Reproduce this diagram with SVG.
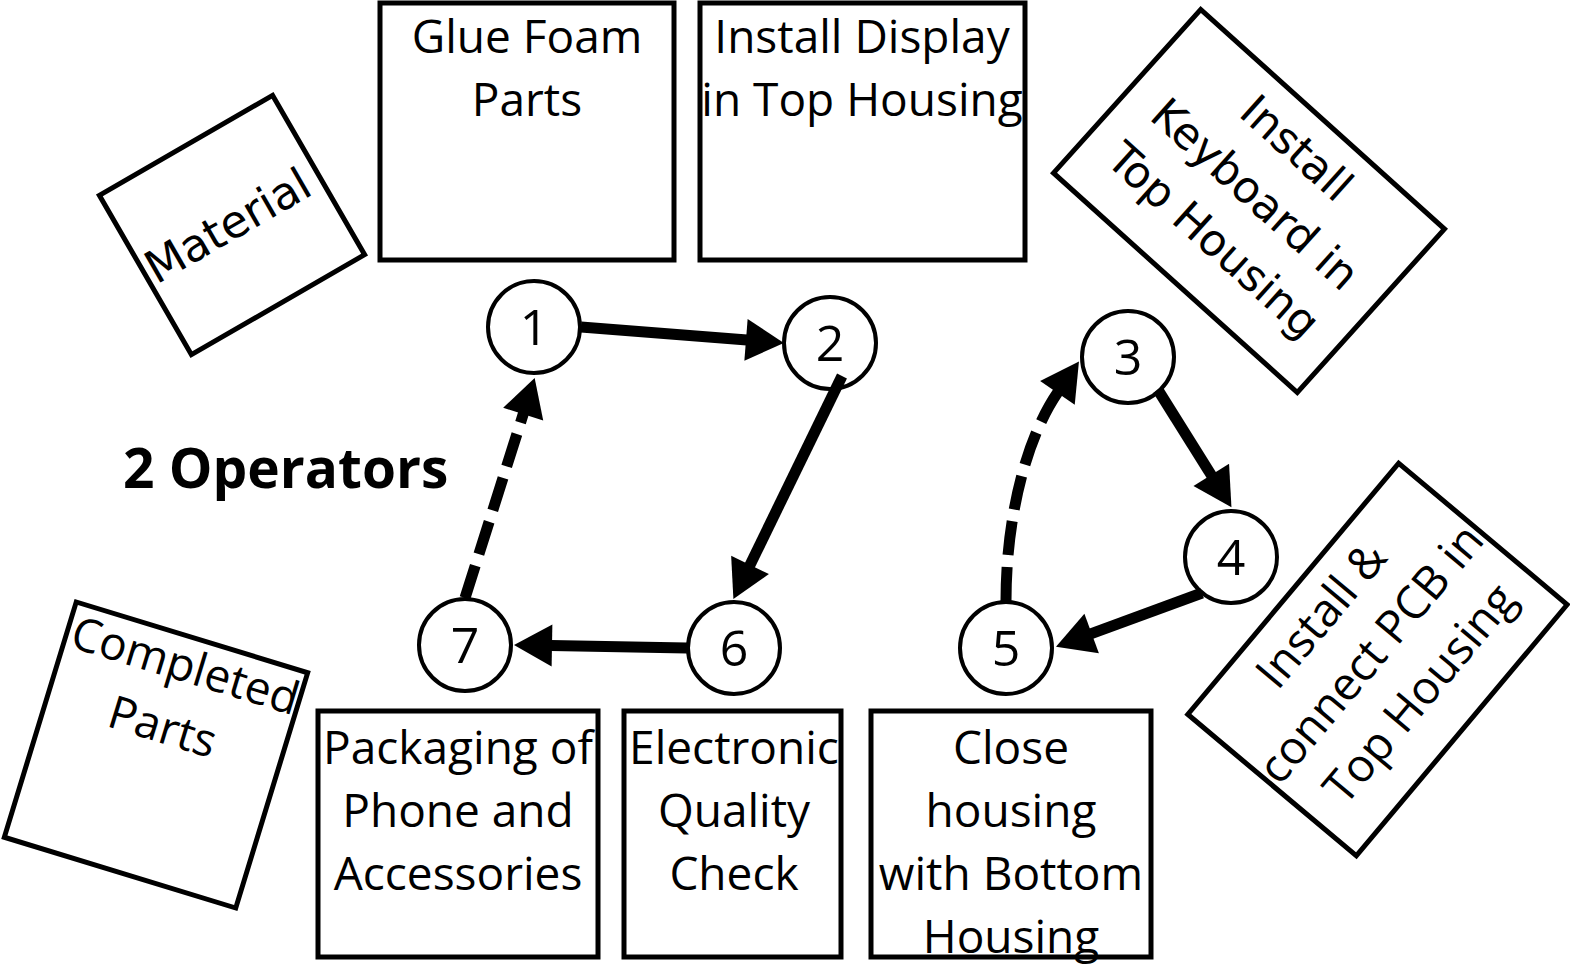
<svg xmlns="http://www.w3.org/2000/svg" width="1570" height="964" viewBox="0 0 1570 964">
<style>
.box{fill:#fff;stroke:#000;stroke-width:5}
.node{fill:#fff;stroke:#000;stroke-width:4}
.t{font-family:"Open Sans","Liberation Sans",sans-serif;font-size:46px;fill:#000;text-anchor:middle}
.d{font-family:"DejaVu Sans","Liberation Sans",sans-serif;fill:#000;text-anchor:middle}
.num{font-family:"Open Sans","Liberation Sans",sans-serif;font-size:50px;fill:#000;text-anchor:middle}
.edge{fill:none;stroke:#000;stroke-width:11;stroke-linecap:butt}
.dash{stroke-dasharray:34 12}
</style>
<defs>
<marker id="ah" markerUnits="userSpaceOnUse" markerWidth="40" markerHeight="42" refX="1" refY="21" orient="auto" overflow="visible">
<path d="M0,0 L38,21 L0,42 Z" fill="#000"/>
</marker>
</defs>
<rect width="1570" height="964" fill="#fff"/>

<g id="box-material" transform="translate(232,225) rotate(-30)">
<rect class="box" x="-100" y="-92" width="200" height="184"/>
<text class="d" font-size="45" x="-4" y="14">Material</text>
</g>

<g id="box-glue">
<rect class="box" x="380" y="3" width="294" height="257"/>
<text class="t" x="527" y="53">Glue Foam</text>
<text class="t" x="527" y="116">Parts</text>
</g>

<g id="box-display">
<rect class="box" x="700" y="3" width="325" height="257"/>
<text class="t" x="862" y="53">Install Display</text>
<text class="t" x="862" y="116">in Top Housing</text>
</g>

<g id="box-keyboard" transform="translate(1249,201) rotate(42)">
<rect class="box" x="-164" y="-110" width="328" height="220"/>
<text class="d" font-size="44" x="0" y="-56">Install</text>
<text class="d" font-size="44" x="0" y="6">Keyboard in</text>
<text class="d" font-size="44" x="0" y="68">Top Housing</text>
</g>

<g id="box-pcb" transform="translate(1377.5,659.5) rotate(-50)">
<rect class="box" x="-164" y="-110" width="328" height="220"/>
<text class="t" x="-2" y="-56">Install &amp;</text>
<text class="t" x="0" y="7">connect PCB in</text>
<text class="t" x="1" y="70">Top Housing</text>
</g>

<g id="box-completed" transform="translate(156,755) rotate(17)">
<rect class="box" x="-121" y="-123" width="242" height="246"/>
<text class="t" x="2" y="-78">Completed</text>
<text class="t" x="-2" y="-13">Parts</text>
</g>

<g id="box-packaging">
<rect class="box" x="318" y="711" width="280" height="246"/>
<text class="t" x="458" y="764">Packaging of</text>
<text class="t" x="458" y="827">Phone and</text>
<text class="t" x="458" y="890">Accessories</text>
</g>

<g id="box-quality">
<rect class="box" x="624" y="711" width="217" height="246"/>
<text class="t" x="734" y="764">Electronic</text>
<text class="t" x="734" y="827">Quality</text>
<text class="t" x="734" y="890">Check</text>
</g>

<g id="box-close">
<rect class="box" x="871" y="711" width="280" height="246"/>
<text class="t" x="1011" y="764">Close</text>
<text class="t" x="1011" y="827">housing</text>
<text class="t" x="1011" y="890">with Bottom</text>
<text class="t" x="1011" y="953">Housing</text>
</g>

<g id="label-operators">
<text x="123" y="488" style="font-family:'Open Sans','Liberation Sans',sans-serif;font-weight:bold;font-size:55px;fill:#000">2 Operators</text>
</g>

<g id="n1"><circle class="node" cx="534" cy="327" r="46"/><text class="num" x="534" y="345">1</text></g>
<g id="n2"><circle class="node" cx="830" cy="343" r="46"/><text class="num" x="830" y="361">2</text></g>
<g id="n3"><circle class="node" cx="1128" cy="357" r="46"/><text class="num" x="1128" y="375">3</text></g>
<g id="n4"><circle class="node" cx="1231" cy="557" r="46"/><text class="num" x="1231" y="575">4</text></g>
<g id="n5"><circle class="node" cx="1006" cy="648" r="46"/><text class="num" x="1006" y="666">5</text></g>
<g id="n6"><circle class="node" cx="734" cy="648" r="46"/><text class="num" x="734" y="666">6</text></g>
<g id="n7"><circle class="node" cx="465" cy="645" r="46"/><text class="num" x="465" y="663">7</text></g>

<g id="connectors">
<path class="edge" d="M581,327 L747,340" marker-end="url(#ah)"/>
<path class="edge" d="M842,376 L749.6,565.8" marker-end="url(#ah)"/>
<path class="edge" d="M687,648 L551,645.6" marker-end="url(#ah)"/>
<path class="edge dash" d="M465,598 L523.5,413.2" marker-end="url(#ah)"/>
<path class="edge" d="M1158,390 L1211.8,475.8" marker-end="url(#ah)"/>
<path class="edge" d="M1202,593 L1090.7,633.9" marker-end="url(#ah)"/>
<path class="edge dash" d="M1006,601 C1006,520 1025,440 1058,392" marker-end="url(#ah)"/>
</g>
</svg>
